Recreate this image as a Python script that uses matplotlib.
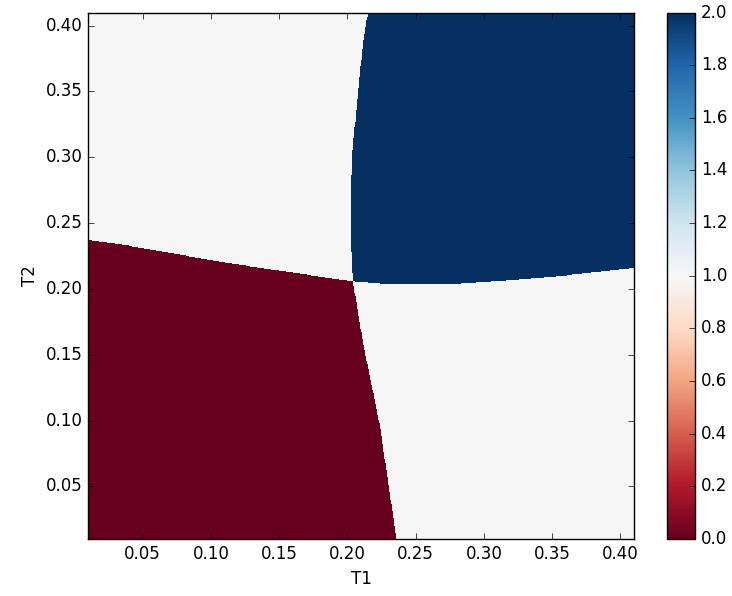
import matplotlib
matplotlib.use('Agg')
import matplotlib.pyplot as plt
import numpy as np

plt.style.use('classic')

# boundary points (T1, T2)
red_top_t1 = [0.010, 0.038, 0.112, 0.204]
red_top_t2 = [0.237, 0.233, 0.2195, 0.2055]
red_right_t2 = [0.010, 0.095, 0.159, 0.2055]
red_right_t1 = [0.236, 0.224, 0.2115, 0.204]

blue_left_t2 = [0.2053, 0.2167, 0.2425, 0.270, 0.3056, 0.3367, 0.387, 0.410]
blue_left_t1 = [0.2042, 0.2035, 0.2023, 0.2023, 0.2038, 0.2067, 0.2115, 0.2152]
blue_bottom_t1 = [0.2042, 0.2335, 0.2726, 0.314, 0.358, 0.409]
blue_bottom_t2 = [0.2055, 0.203, 0.203, 0.206, 0.2098, 0.2157]

t1 = np.linspace(0.01, 0.41, 1000)
t2 = np.linspace(0.01, 0.41, 1000)
T1, T2 = np.meshgrid(t1, t2)

phase = np.ones_like(T1)
red = (T2 < np.interp(T1, red_top_t1, red_top_t2)) & (T1 < np.interp(T2, red_right_t2, red_right_t1))
blue = (T1 > np.interp(T2, blue_left_t2, blue_left_t1)) & (T2 > np.interp(T1, blue_bottom_t1, blue_bottom_t2))
phase[red] = 0
phase[blue] = 2

fig = plt.figure(figsize=(7.32, 5.96), dpi=100, facecolor='white')
ax = fig.add_axes([88/732, 1-539/596, 546/732, 526.5/596])
im = ax.imshow(phase, extent=[0.01, 0.41, 0.01, 0.41], origin='lower',
               cmap='RdBu', vmin=0, vmax=2, interpolation='nearest', aspect='auto')
ax.set_xlim(0.01, 0.41)
ax.set_ylim(0.01, 0.41)
ax.set_xticks(np.arange(0.05, 0.41, 0.05))
ax.set_yticks(np.arange(0.05, 0.41, 0.05))
ax.set_xlabel("T1")
ax.set_ylabel("T2")

cax = fig.add_axes([667/732, 1-539/596, 28.5/732, 526.5/596])
cb = fig.colorbar(im, cax=cax)
cb.set_ticks(np.arange(0, 2.01, 0.2))

plt.savefig("out.png", dpi=100, facecolor='white')
